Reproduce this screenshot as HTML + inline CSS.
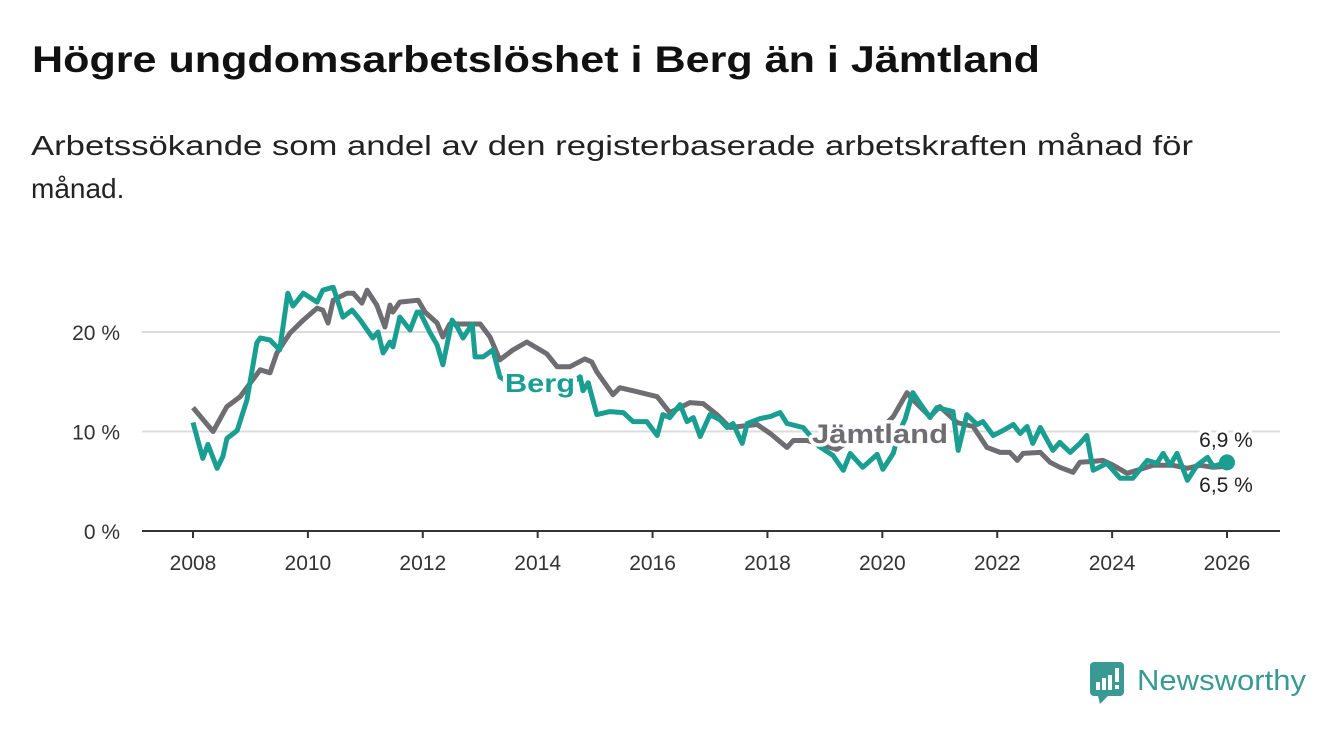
<!DOCTYPE html>
<html><head><meta charset="utf-8"><style>
body{margin:0;background:#fff;}
svg{display:block;font-family:"Liberation Sans",sans-serif;}
.lbl{paint-order:stroke;stroke:#fff;stroke-width:7px;stroke-linejoin:round;}
</style></head><body>
<svg id="c" width="1340" height="734" viewBox="0 0 1340 734">
<text x="32" y="72" font-size="37" font-weight="bold" fill="#111" textLength="1008" lengthAdjust="spacingAndGlyphs">Högre ungdomsarbetslöshet i Berg än i Jämtland</text>
<text x="31" y="155" font-size="28" fill="#222" textLength="1162" lengthAdjust="spacingAndGlyphs">Arbetssökande som andel av den registerbaserade arbetskraften månad för</text>
<text x="31" y="198" font-size="28" fill="#222">månad.</text>
<g id="grid"></g><g id="lines"></g><g id="labels"></g>
<g>
<rect x="1090" y="662" width="34" height="34" rx="4" fill="#3a9a93"/>
<polygon points="1098,696 1108,696 1100,704" fill="#3a9a93"/>
<rect x="1096" y="682" width="4" height="8" fill="#fff"/><rect x="1102" y="678" width="4" height="12" fill="#fff"/><rect x="1108" y="675" width="4" height="15" fill="#fff"/><rect x="1115" y="668" width="4" height="14" fill="#fff"/><rect x="1115" y="685" width="4" height="4" fill="#fff"/>
<text x="1137" y="690" font-size="29" fill="#3a9a93" textLength="169" lengthAdjust="spacingAndGlyphs">Newsworthy</text>
</g>
</svg>
<script>
const jYears=[2008.00,2008.35,2008.59,2008.82,2009.17,2009.34,2009.46,2009.69,2009.92,2010.16,2010.26,2010.35,2010.44,2010.68,2010.79,2010.94,2011.03,2011.20,2011.34,2011.43,2011.48,2011.60,2011.92,2012.04,2012.25,2012.35,2012.47,2013.00,2013.17,2013.34,2013.57,2013.81,2014.16,2014.34,2014.56,2014.82,2014.94,2015.03,2015.31,2015.43,2015.73,2016.08,2016.30,2016.65,2016.88,2017.12,2017.35,2017.82,2018.05,2018.34,2018.45,2018.69,2019.21,2019.55,2019.9,2020.19,2020.43,2020.53,2020.83,2021.00,2021.30,2021.58,2021.82,2022.05,2022.22,2022.35,2022.45,2022.75,2022.92,2023.09,2023.32,2023.44,2023.67,2023.84,2024.02,2024.26,2024.49,2024.71,2025.06,2025.31,2025.53,2025.76,2026.00];
const jVals=[12.4,10.0,12.5,13.5,16.2,15.9,17.9,19.9,21.2,22.4,22.2,20.9,23.2,23.9,23.9,22.9,24.2,22.7,20.5,22.7,22.0,23.0,23.2,22.0,20.9,19.5,20.8,20.8,19.5,17.2,18.2,19.0,17.8,16.5,16.5,17.3,17.0,16.0,13.7,14.4,14.0,13.5,11.9,12.9,12.8,11.7,10.4,10.7,9.8,8.4,9.1,9.1,8.2,9.6,9.8,11.5,13.9,13.2,11.5,12.5,10.9,10.5,8.4,7.9,7.9,7.1,7.8,7.9,6.9,6.4,5.9,6.9,7.0,7.1,6.6,5.8,6.2,6.6,6.6,6.3,6.6,6.4,6.5];
const bYears=[2008.00,2008.17,2008.26,2008.42,2008.52,2008.59,2008.77,2008.94,2009.11,2009.17,2009.34,2009.51,2009.65,2009.74,2009.92,2010.16,2010.26,2010.44,2010.61,2010.77,2010.91,2011.13,2011.22,2011.31,2011.43,2011.48,2011.60,2011.78,2011.90,2011.95,2012.13,2012.25,2012.35,2012.51,2012.60,2012.70,2012.86,2012.91,2013.05,2013.22,2013.34,2013.6,2014.0,2014.5,2014.74,2014.79,2014.88,2015.03,2015.26,2015.49,2015.66,2015.90,2016.08,2016.18,2016.30,2016.48,2016.60,2016.71,2016.83,2017.00,2017.17,2017.30,2017.40,2017.56,2017.65,2017.87,2018.05,2018.22,2018.34,2018.62,2018.74,2018.9,2019.14,2019.32,2019.44,2019.66,2019.91,2020.01,2020.19,2020.3,2020.40,2020.53,2020.66,2020.83,2020.95,2021.23,2021.32,2021.47,2021.65,2021.75,2021.93,2022.10,2022.28,2022.40,2022.52,2022.62,2022.75,2022.97,2023.09,2023.27,2023.44,2023.56,2023.67,2023.91,2024.14,2024.36,2024.61,2024.78,2024.89,2025.01,2025.13,2025.31,2025.48,2025.66,2025.76,2026.00];
const bVals=[10.9,7.3,8.7,6.3,7.5,9.3,10.1,13.2,18.9,19.4,19.2,18.2,23.9,22.6,23.9,23.0,24.2,24.5,21.5,22.2,21.2,19.4,20.0,17.9,19.0,18.5,21.5,20.2,22.0,22.0,19.9,18.7,16.7,21.2,20.5,19.4,20.8,17.5,17.5,18.2,15.5,14.5,14.0,14.5,15.5,14.1,14.9,11.7,12.0,11.9,11.0,11.0,9.6,11.7,11.4,12.7,11.0,11.4,9.5,11.7,11.2,10.4,10.8,8.8,10.8,11.3,11.5,11.9,10.8,10.4,9.6,8.5,7.6,6.1,7.8,6.4,7.7,6.2,7.8,10.0,11.3,13.9,12.8,11.4,12.4,12.0,8.1,11.7,10.7,11.0,9.6,10.1,10.7,9.8,10.5,8.8,10.4,8.1,8.9,7.9,8.8,9.6,6.1,6.8,5.3,5.3,7.1,6.8,7.8,6.6,7.8,5.1,6.6,7.4,6.5,6.9];
const yTicks=[0,10,20];
const yTickLabels=["0 %","10 %","20 %"];
const xTicks=[2008,2010,2012,2014,2016,2018,2020,2022,2024,2026];
const NS="http://www.w3.org/2000/svg";
const X=y=>193+(y-2008)*(1034/18);
const Y=v=>531-v*9.95;
function mk(tag,attrs,parent){const e=document.createElementNS(NS,tag);for(const k in attrs)e.setAttribute(k,attrs[k]);parent.appendChild(e);return e;}
const grid=document.getElementById('grid'),lines=document.getElementById('lines'),labels=document.getElementById('labels');
yTicks.forEach((t,i)=>{
  if(t>0){const g=mk('line',{x1:142,x2:1280,y1:Y(t),y2:Y(t),stroke:'#dcdcdc','stroke-width':2},grid);
  
  }
  const tx=mk('text',{x:120,y:Y(t)+8,'font-size':21,fill:'#333','text-anchor':'end'},grid);tx.textContent=yTickLabels[i];
  
  
});
const ax=mk('line',{x1:142,x2:1280,y1:531,y2:531,stroke:'#333','stroke-width':2},grid);


xTicks.forEach(t=>{
  mk('line',{x1:X(t),x2:X(t),y1:531,y2:538,stroke:'#333','stroke-width':2},grid);
  const tx=mk('text',{x:X(t),y:570,'font-size':21,fill:'#333','text-anchor':'middle'},grid);tx.textContent=t;
  
  
});
function path(xs,vs){return xs.map((x,i)=>(i?'L':'M')+X(x).toFixed(1)+','+Y(vs[i]).toFixed(1)).join('');}
const jl=mk('path',{d:path(jYears,jVals),fill:'none',stroke:'#6e6d72','stroke-width':5,'stroke-linejoin':'round'},lines);


const bl=mk('path',{d:path(bYears,bVals),fill:'none',stroke:'#1a9e92','stroke-width':5,'stroke-linejoin':'round'},lines);


const dot=mk('circle',{cx:X(bYears[bYears.length-1]),cy:Y(bVals[bVals.length-1]),r:8,fill:'#1a9e92'},lines);


const lb=mk('text',{x:505,y:392,'font-size':26,'font-weight':'bold',fill:'#1a9e92',class:'lbl',textLength:70,lengthAdjust:'spacingAndGlyphs'},labels);lb.textContent='Berg';


const lj=mk('text',{x:812,y:443,'font-size':27,'font-weight':'bold',fill:'#6e6d72',class:'lbl',textLength:136,lengthAdjust:'spacingAndGlyphs'},labels);lj.textContent='Jämtland';


const e1=mk('text',{x:1226,y:447,'font-size':21,fill:'#222','text-anchor':'middle',class:'lbl'},labels);e1.textContent=bVals[bVals.length-1].toFixed(1).replace('.',',')+' %';


const e2=mk('text',{x:1226,y:492,'font-size':21,fill:'#222','text-anchor':'middle',class:'lbl'},labels);e2.textContent=jVals[jVals.length-1].toFixed(1).replace('.',',')+' %';


</script>
</body></html>
